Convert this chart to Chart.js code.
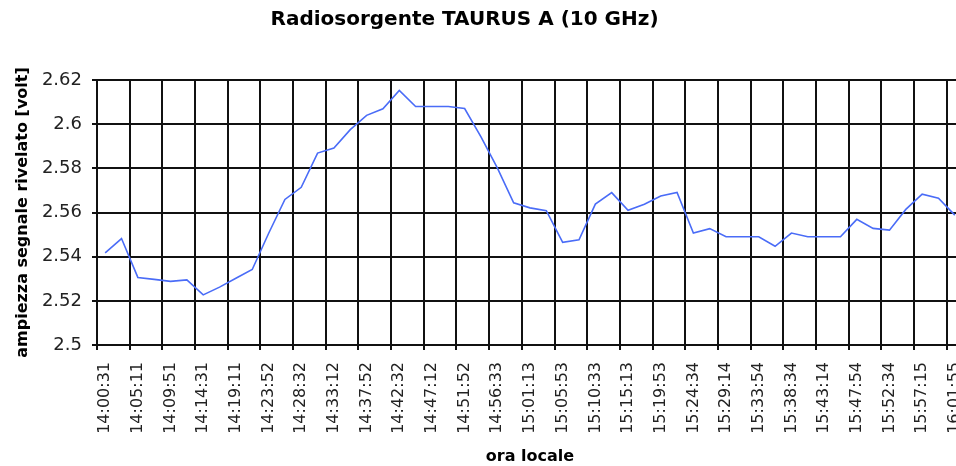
<!DOCTYPE html>
<html>
<head>
<meta charset="utf-8">
<script src="https://cdn.jsdelivr.net/npm/chart.js@4.4.1/dist/chart.umd.min.js"></script>
<style>
  html, body { margin: 0; padding: 0; overflow: hidden; background: #fff; }
  #grafico { display: block; }
</style>
</head>
<body>
<canvas id="grafico" width="972" height="466"></canvas>
<script>
// Etichette dell'asse x (una ogni due misure)
var orari = ['14:00:31', '14:05:11', '14:09:51', '14:14:31', '14:19:11', '14:23:52',
    '14:28:32', '14:33:12', '14:37:52', '14:42:32', '14:47:12', '14:51:52',
    '14:56:33', '15:01:13', '15:05:53', '15:10:33', '15:15:13', '15:19:53',
    '15:24:34', '15:29:14', '15:33:54', '15:38:34', '15:43:14', '15:47:54',
    '15:52:34', '15:57:15', '16:01:55'];

// Ampiezza del segnale rivelato [volt], una misura per categoria
var ampiezza = [2.5417, 2.5482, 2.5306, 2.5297, 2.5288, 2.5295, 2.5227, 2.5262, 2.5302,
    2.5342, 2.5505, 2.5659, 2.5714, 2.5869, 2.5892, 2.5975, 2.6040, 2.6070,
    2.6153, 2.6080, 2.6080, 2.6080, 2.6071, 2.5942, 2.5802, 2.5644, 2.5621,
    2.5608, 2.5465, 2.5476, 2.5638, 2.5690, 2.5610, 2.5637, 2.5675, 2.5691,
    2.5507, 2.5527, 2.5490, 2.5490, 2.5490, 2.5447, 2.5507, 2.5490, 2.5490,
    2.5490, 2.5569, 2.5528, 2.5520, 2.5614, 2.5683, 2.5665, 2.5588];

// Tacche dell'asse y
var tacheY = { min: 2.5, max: 2.62, passo: 0.02 };

// Categorie: l'orario sulle misure pari, vuoto sulle dispari
var categorie = ampiezza.map(function (v, i) {
    return i % 2 === 0 ? orari[i / 2] : '';
});

var nero = '#111';

// Sposta leggermente il titolo verso sinistra come nell'originale
var spostaTitolo = {
    id: 'spostaTitolo',
    afterLayout: function (chart) {
        if (chart.titleBlock) chart.titleBlock.right -= 34;
    }
};

var ctx = document.getElementById('grafico').getContext('2d');
var grafico = new Chart(ctx, {
    type: 'line',
    data: {
        labels: categorie,
        datasets: [{
            label: 'ampiezza',
            data: ampiezza,
            borderColor: '#4a6cf7',
            borderWidth: 1.6,
            pointRadius: 0,
            tension: 0,
            fill: false
        }]
    },
    plugins: [spostaTitolo],
    options: {
        responsive: false,
        animation: false,
        layout: { padding: { left: 0, right: 9, top: 0, bottom: 0 } },
        plugins: {
            legend: { display: false },
            tooltip: { enabled: false },
            title: {
                display: true,
                text: 'Radiosorgente TAURUS A (10 GHz)',
                color: '#000',
                font: { family: 'DejaVu Sans', size: 20, weight: 'bold' },
                padding: { top: 8, bottom: 48 }
            }
        },
        scales: {
            x: {
                type: 'category',
                offset: true,
                grid: {
                    offset: true,
                    lineWidth: 2,
                    tickLength: 5,
                    color: function (c) {
                        return c.index % 2 === 0 ? nero : 'rgba(0,0,0,0)';
                    }
                },
                border: { color: nero, width: 2 },
                ticks: {
                    autoSkip: false,
                    minRotation: 90,
                    maxRotation: 90,
                    padding: 12,
                    color: '#222',
                    font: { family: 'DejaVu Sans', size: 16 }
                },
                title: {
                    display: true,
                    text: 'ora locale',
                    color: '#000',
                    font: { family: 'DejaVu Sans', size: 16, weight: 'bold' },
                    padding: { top: 0, bottom: 0 }
                },
                afterFit: function (scale) {
                    scale.height = 121;
                    scale.paddingLeft = 0;
                    scale.paddingRight = 0;
                }
            },
            y: {
                min: tacheY.min,
                max: tacheY.max,
                grid: { color: nero, lineWidth: 2, tickLength: 5 },
                border: { color: nero, width: 2 },
                ticks: {
                    stepSize: tacheY.passo,
                    padding: 10,
                    color: '#222',
                    font: { family: 'DejaVu Sans', size: 18 },
                    callback: function (v) { return String(+v.toFixed(2)); }
                },
                title: {
                    display: true,
                    text: 'ampiezza segnale rivelato [volt]',
                    color: '#000',
                    font: { family: 'DejaVu Sans', size: 16, weight: 'bold' },
                    padding: { top: 13, bottom: 0 }
                },
                afterFit: function (scale) {
                    scale.width = 97;
                }
            }
        }
    }
});
</script>
</body>
</html>
